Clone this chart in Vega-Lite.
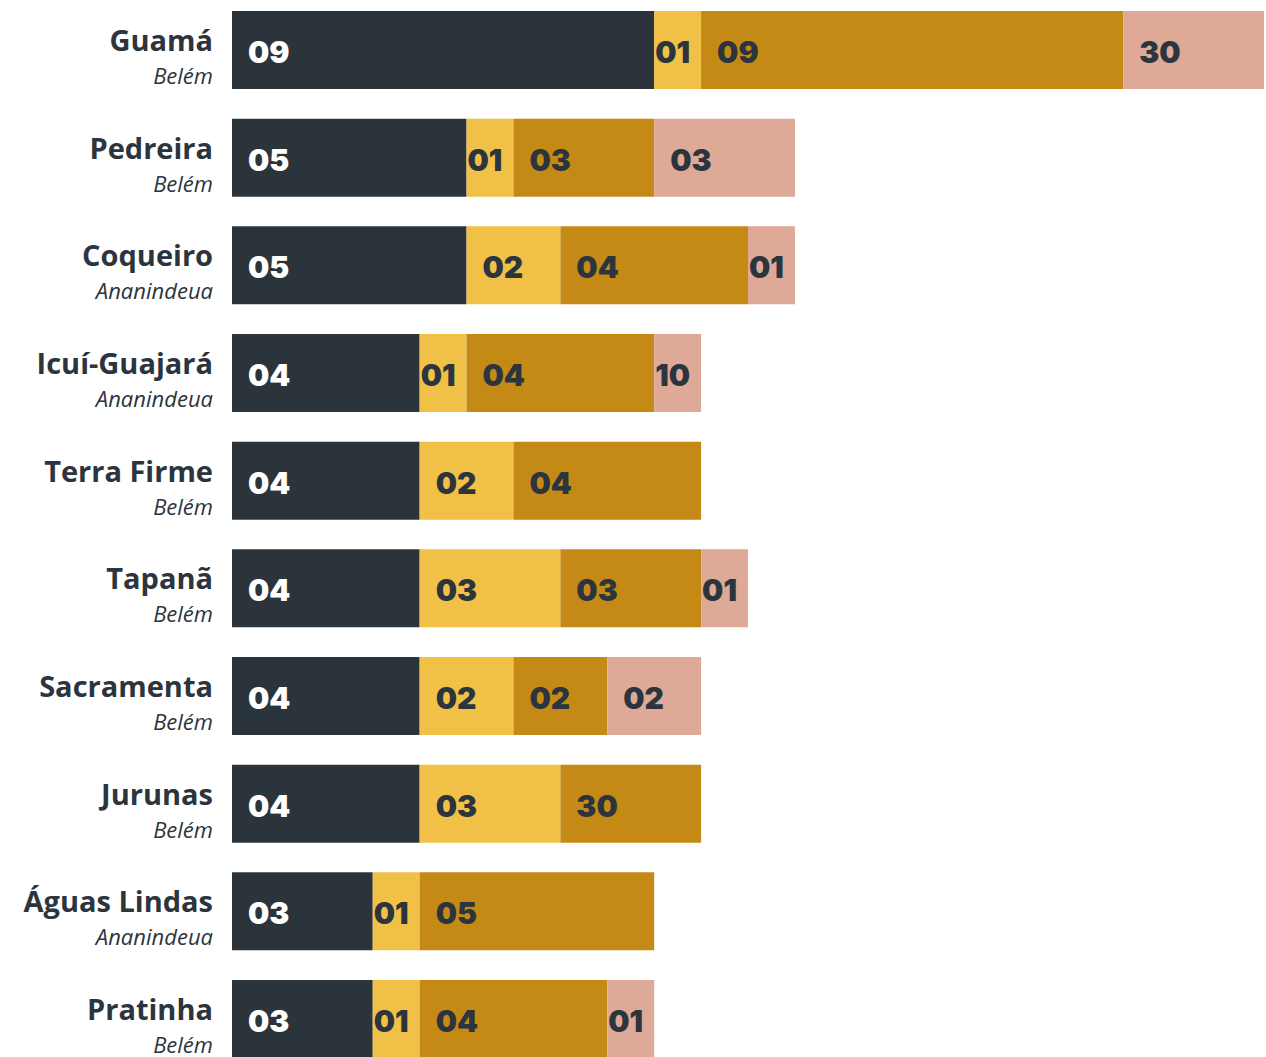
{
  "$schema": "https://vega.github.io/schema/vega-lite/v6.json",
  "autosize": {"type": "none"},
  "padding": {"left": 232, "top": 11, "right": 2, "bottom": 0},
  "width": 1032,
  "height": 1047,
  "background": "white",
  "config": {"view": {"stroke": null}},
  "data": {"values": [
    {"bairro": "Guamá", "cidade": "Belém", "cat": 1, "value": 9, "label": "09"},
    {"bairro": "Guamá", "cidade": "Belém", "cat": 2, "value": 1, "label": "01"},
    {"bairro": "Guamá", "cidade": "Belém", "cat": 3, "value": 9, "label": "09"},
    {"bairro": "Guamá", "cidade": "Belém", "cat": 4, "value": 3, "label": "30"},
    {"bairro": "Pedreira", "cidade": "Belém", "cat": 1, "value": 5, "label": "05"},
    {"bairro": "Pedreira", "cidade": "Belém", "cat": 2, "value": 1, "label": "01"},
    {"bairro": "Pedreira", "cidade": "Belém", "cat": 3, "value": 3, "label": "03"},
    {"bairro": "Pedreira", "cidade": "Belém", "cat": 4, "value": 3, "label": "03"},
    {"bairro": "Coqueiro", "cidade": "Ananindeua", "cat": 1, "value": 5, "label": "05"},
    {"bairro": "Coqueiro", "cidade": "Ananindeua", "cat": 2, "value": 2, "label": "02"},
    {"bairro": "Coqueiro", "cidade": "Ananindeua", "cat": 3, "value": 4, "label": "04"},
    {"bairro": "Coqueiro", "cidade": "Ananindeua", "cat": 4, "value": 1, "label": "01"},
    {"bairro": "Icuí-Guajará", "cidade": "Ananindeua", "cat": 1, "value": 4, "label": "04"},
    {"bairro": "Icuí-Guajará", "cidade": "Ananindeua", "cat": 2, "value": 1, "label": "01"},
    {"bairro": "Icuí-Guajará", "cidade": "Ananindeua", "cat": 3, "value": 4, "label": "04"},
    {"bairro": "Icuí-Guajará", "cidade": "Ananindeua", "cat": 4, "value": 1, "label": "10"},
    {"bairro": "Terra Firme", "cidade": "Belém", "cat": 1, "value": 4, "label": "04"},
    {"bairro": "Terra Firme", "cidade": "Belém", "cat": 2, "value": 2, "label": "02"},
    {"bairro": "Terra Firme", "cidade": "Belém", "cat": 3, "value": 4, "label": "04"},
    {"bairro": "Tapanã", "cidade": "Belém", "cat": 1, "value": 4, "label": "04"},
    {"bairro": "Tapanã", "cidade": "Belém", "cat": 2, "value": 3, "label": "03"},
    {"bairro": "Tapanã", "cidade": "Belém", "cat": 3, "value": 3, "label": "03"},
    {"bairro": "Tapanã", "cidade": "Belém", "cat": 4, "value": 1, "label": "01"},
    {"bairro": "Sacramenta", "cidade": "Belém", "cat": 1, "value": 4, "label": "04"},
    {"bairro": "Sacramenta", "cidade": "Belém", "cat": 2, "value": 2, "label": "02"},
    {"bairro": "Sacramenta", "cidade": "Belém", "cat": 3, "value": 2, "label": "02"},
    {"bairro": "Sacramenta", "cidade": "Belém", "cat": 4, "value": 2, "label": "02"},
    {"bairro": "Jurunas", "cidade": "Belém", "cat": 1, "value": 4, "label": "04"},
    {"bairro": "Jurunas", "cidade": "Belém", "cat": 2, "value": 3, "label": "03"},
    {"bairro": "Jurunas", "cidade": "Belém", "cat": 3, "value": 3, "label": "30"},
    {"bairro": "Águas Lindas", "cidade": "Ananindeua", "cat": 1, "value": 3, "label": "03"},
    {"bairro": "Águas Lindas", "cidade": "Ananindeua", "cat": 2, "value": 1, "label": "01"},
    {"bairro": "Águas Lindas", "cidade": "Ananindeua", "cat": 3, "value": 5, "label": "05"},
    {"bairro": "Pratinha", "cidade": "Belém", "cat": 1, "value": 3, "label": "03"},
    {"bairro": "Pratinha", "cidade": "Belém", "cat": 2, "value": 1, "label": "01"},
    {"bairro": "Pratinha", "cidade": "Belém", "cat": 3, "value": 4, "label": "04"},
    {"bairro": "Pratinha", "cidade": "Belém", "cat": 4, "value": 1, "label": "01"}
  ]},
  "transform": [
    {"stack": "value", "groupby": ["bairro"], "sort": [{"field": "cat", "order": "ascending"}], "as": ["x0", "x1"]}
  ],
  "encoding": {
    "y": {"field": "bairro", "type": "nominal", "sort": null,
      "scale": {"paddingInner": 0.276, "paddingOuter": 0},
      "axis": null}
  },
  "layer": [
    {
      "mark": {"type": "rect"},
      "encoding": {
        "x": {"field": "x0", "type": "quantitative", "scale": {"domain": [0, 22], "nice": false, "zero": true}, "axis": null},
        "x2": {"field": "x1"},
        "color": {"field": "cat", "type": "nominal", "legend": null,
          "scale": {"domain": [1, 2, 3, 4], "range": ["#2c343b", "#f0c146", "#c58915", "#dea997"]}}
      }
    },
    {
      "transform": [{"filter": "datum.value > 1"}],
      "mark": {"type": "text", "align": "left", "baseline": "middle", "dx": 16, "dy": 4, "font": "Inter", "fontWeight": 900, "fontSize": 30},
      "encoding": {
        "x": {"field": "x0", "type": "quantitative"},
        "text": {"field": "label"},
        "color": {"condition": {"test": "datum.cat == 1", "value": "#ffffff"}, "value": "#2c353d"}
      }
    },
    {
      "transform": [{"filter": "datum.value == 1"}],
      "mark": {"type": "text", "align": "left", "baseline": "middle", "dx": 1, "dy": 4, "font": "Inter", "fontWeight": 900, "fontSize": 30},
      "encoding": {
        "x": {"field": "x0", "type": "quantitative"},
        "text": {"field": "label"},
        "color": {"condition": {"test": "datum.cat == 1", "value": "#ffffff"}, "value": "#2c353d"}
      }
    },
    {
      "transform": [{"filter": "datum.cat == 1"}],
      "mark": {"type": "text", "align": "right", "baseline": "alphabetic", "dx": -19, "dy": 1, "font": "Open Sans", "fontWeight": 700, "fontSize": 29, "color": "#2c353d"},
      "encoding": {
        "x": {"datum": 0, "type": "quantitative"},
        "text": {"field": "bairro"}
      }
    },
    {
      "transform": [{"filter": "datum.cat == 1"}],
      "mark": {"type": "text", "align": "right", "baseline": "alphabetic", "dx": -19, "dy": 34, "font": "Open Sans", "fontStyle": "italic", "fontSize": 22, "color": "#2c353d"},
      "encoding": {
        "x": {"datum": 0, "type": "quantitative"},
        "text": {"field": "cidade"}
      }
    }
  ]
}
